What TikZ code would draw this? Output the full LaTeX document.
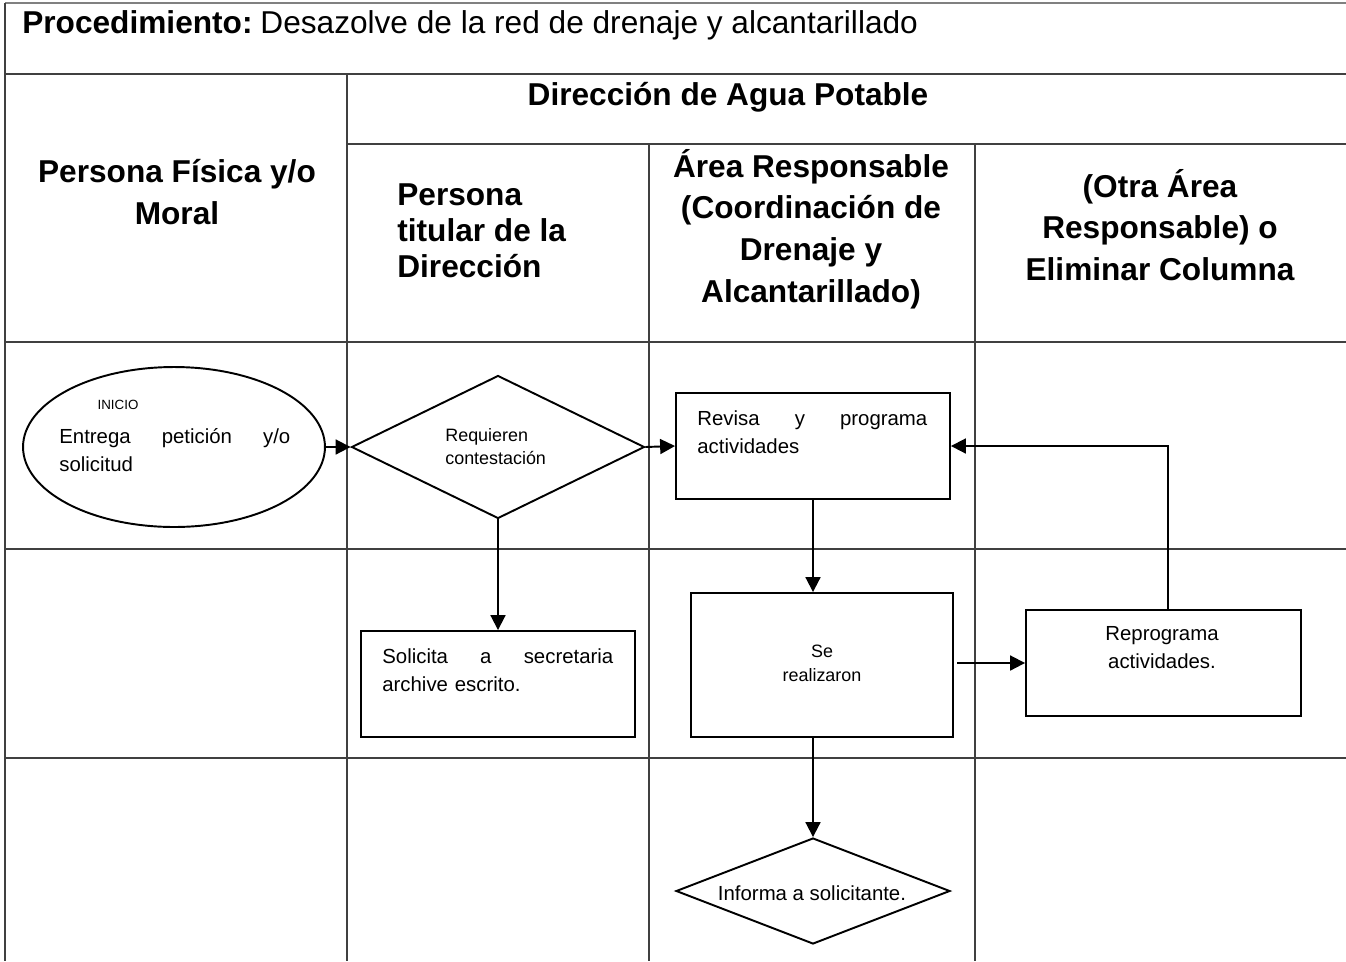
\documentclass[tikz,border=0pt]{standalone}
\usepackage{fontspec}
\setmainfont{Liberation Sans}
\usetikzlibrary{arrows.meta,shapes.geometric}

\begin{document}
\begin{tikzpicture}[>={Triangle[length=8.5pt,width=8.5pt]},x=0.02cm,y=-0.02cm,
    lane/.style={line width=0.7pt,black!75},
    box/.style={draw,line width=1.1pt,rectangle,inner sep=0pt},
    flecha/.style={->,line width=1.1pt},
    head/.style={font=\fontsize{18}{23.8}\selectfont\bfseries,align=center,inner sep=0pt},
    txt/.style={font=\fontsize{11.6}{15.9}\selectfont,inner sep=0pt},
    small/.style={font=\fontsize{10.2}{13}\selectfont,inner sep=0pt,align=center}]

    \useasboundingbox (0,0) rectangle (1346,961);

    % Table frame and lanes
    \draw [line width=1.6pt,gray] (5,3) -- (1346,3);
    \draw [lane] (5,3) -- (5,961);
    \draw [lane] (5,74) -- (1346,74);
    \draw [lane] (347,144) -- (1346,144);
    \draw [lane] (5,342) -- (1346,342);
    \draw [lane] (5,549) -- (1346,549);
    \draw [lane] (5,758) -- (1346,758);
    \draw [lane] (347,74) -- (347,961);
    \draw [lane] (649,144) -- (649,961);
    \draw [lane] (975,144) -- (975,961);

    % Headers
    \node (titulo) [anchor=base west,inner sep=0pt,font=\fontsize{18}{22}\selectfont] at (22,33)
        {\textbf{Procedimiento:}\hspace{0.25em}Desazolve de la red de drenaje y alcantarillado};
    \node (direccion) [head] at (728,97) {Dirección de Agua Potable};
    \node (persona) [head,font=\fontsize{18}{24.4}\selectfont\bfseries] at (177,192) {Persona Física y/o\\Moral};
    \node (titular) [head,anchor=west,align=left,font=\fontsize{18}{20.4}\selectfont\bfseries] at (397,231)
        {Persona\\titular de la\\Dirección};
    \node (area) [head] at (811,229) {Área Responsable\\(Coordinación de\\Drenaje y\\Alcantarillado)};
    \node (otra) [head] at (1160,225) {(Otra Área\\Responsable) o\\Eliminar Columna};

    % Shapes
    \node (inicio) [draw,ellipse,line width=1.1pt,inner sep=0pt,minimum width=6.04cm,minimum height=3.2cm] at (174,447) {};
    \node (requieren) [draw,diamond,line width=1.1pt,inner sep=0pt,minimum width=5.86cm,minimum height=2.86cm] at (498,447) {};
    \node (revisa) [box,minimum width=5.48cm,minimum height=2.12cm] at (813,446) {};
    \node (solicita) [box,minimum width=5.48cm,minimum height=2.12cm] at (498,684) {};
    \node (realizaron) [box,minimum width=5.24cm,minimum height=2.88cm] at (822,665) {};
    \node (reprograma) [box,minimum width=5.5cm,minimum height=2.12cm] at (1163.5,663) {};
    \node (informa) [draw,diamond,line width=1.1pt,inner sep=0pt,minimum width=5.48cm,minimum height=2.12cm] at (813,891) {};

    % Texts
    \node (inicio-lbl) [small,font=\fontsize{7.6}{9}\selectfont] at (118,405) {INICIO};
    \node (inicio-txt) [txt,anchor=west,text width=4.62cm,align=left] at (59,450)
        {Entrega\hfill petición\hfill y/o\\solicitud};
    \node (requieren-txt) [small,anchor=west,align=left] at (445,447) {Requieren\\contestación};
    \node (revisa-txt) [txt,anchor=west,text width=4.6cm,align=left] at (697,432)
        {Revisa\hfill y\hfill programa\\actividades};
    \node (solicita-txt) [txt,anchor=west,text width=4.62cm,align=left] at (382,670)
        {Solicita\hfill a\hfill secretaria\\archive escrito.};
    \node (realizaron-txt) [small,font=\fontsize{10.2}{13.6}\selectfont] at (822,663) {Se\\realizaron};
    \node (reprograma-txt) [txt,align=center] at (1162,648) {Reprograma\\actividades.};
    \node (informa-txt) [txt] at (812,893) {Informa a solicitante.};

    % Connectors
    \draw [flecha] (inicio.east) -- (requieren.west);
    \draw [flecha] (requieren.east) -- (revisa.west);
    \draw [flecha] (requieren.south) -- (solicita.north);
    \draw [flecha] (revisa.south) -- (revisa.south |- realizaron.north);
    \draw [flecha,shorten <=2pt] (realizaron.east |- reprograma.west) -- (reprograma.west);
    \draw [flecha] ([xshift=0.09cm]reprograma.north) |- (revisa.east);
    \draw [flecha] (realizaron.south -| informa.north) -- (informa.north);

\end{tikzpicture}
\end{document}
